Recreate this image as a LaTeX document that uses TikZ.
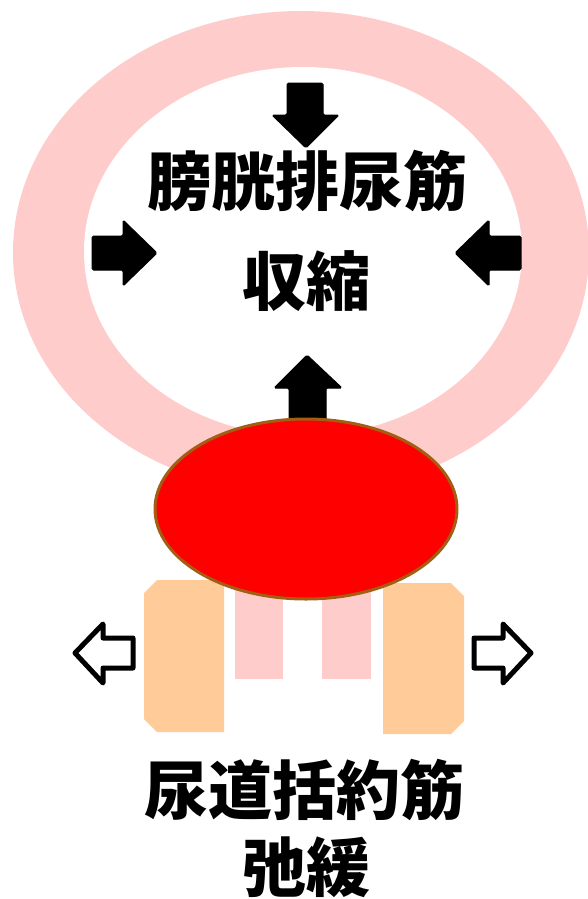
\documentclass[tikz,border=0pt]{standalone}
\usepackage{fontspec}
\newfontfamily\jpfont{Noto Sans CJK JP}
\definecolor{ringpink}{RGB}{255,204,204}
\definecolor{muscleorange}{RGB}{255,204,153}
\definecolor{rimbrown}{RGB}{163,94,20}
\begin{document}
\begin{tikzpicture}[x=1pt,y=-1pt,
  solidarrow/.style={fill=black,draw=black,line width=1pt,rounded corners=1.5pt},
  hollowarrow/.style={fill=white,draw=black,line width=5pt,line join=round},
  label/.style={font=\jpfont\bfseries\fontsize{64}{64}\selectfont,inner sep=0pt,text=black}]
\useasboundingbox (0,0) rectangle (587,899);

% bladder wall
\fill[ringpink] (301,252.5) ellipse [x radius=288, y radius=241.5];
\fill[white] (303,251.5) ellipse [x radius=219, y radius=184.5];

% contraction arrows
\path[solidarrow] (287,83) -- (323,83) -- (323,115) -- (339,115) -- (306,148) -- (272,115) -- (287,115) -- cycle;
\path[solidarrow] (92,236) -- (123,236) -- (123,220) -- (157,253) -- (123,286) -- (123,270) -- (92,270) -- cycle;
\path[solidarrow] (521,236) -- (489,236) -- (489,220) -- (455,253) -- (489,286) -- (489,270) -- (521,270) -- cycle;
\path[solidarrow] (289,430) -- (289,388) -- (274,388) -- (307,355) -- (342,388) -- (326,388) -- (326,430) -- cycle;

% urethra
\fill[ringpink] (235,560) rectangle (283,679);
\fill[ringpink] (322,560) rectangle (371,679);

% sphincter
\fill[muscleorange] (157,580) -- (224,580) -- (224,732) -- (157,732) -- (144,719) -- (144,593) -- cycle;
\fill[muscleorange] (383,583) -- (451,583) -- (464,596) -- (464,721) -- (451,734) -- (383,734) -- cycle;

% bladder contents
\draw[fill=red,draw=rimbrown,line width=3pt] (306,509) ellipse [x radius=151, y radius=90];

% relaxation arrows
\path[hollowarrow] (75,653) -- (103,624) -- (103,638) -- (133,638) -- (133,668) -- (103,668) -- (103,683) -- cycle;
\path[hollowarrow] (531,653) -- (503,624) -- (503,638) -- (474,638) -- (474,668) -- (503,668) -- (503,683) -- cycle;

% captions
\node[label] (t1) at (307,181.5) {膀胱排尿筋};
\node[label] (t2) at (306,281) {収縮};
\node[label] (b1) at (304,790.5) {尿道括約筋};
\node[label] (b2) at (306,867) {弛緩};
\end{tikzpicture}
\end{document}
